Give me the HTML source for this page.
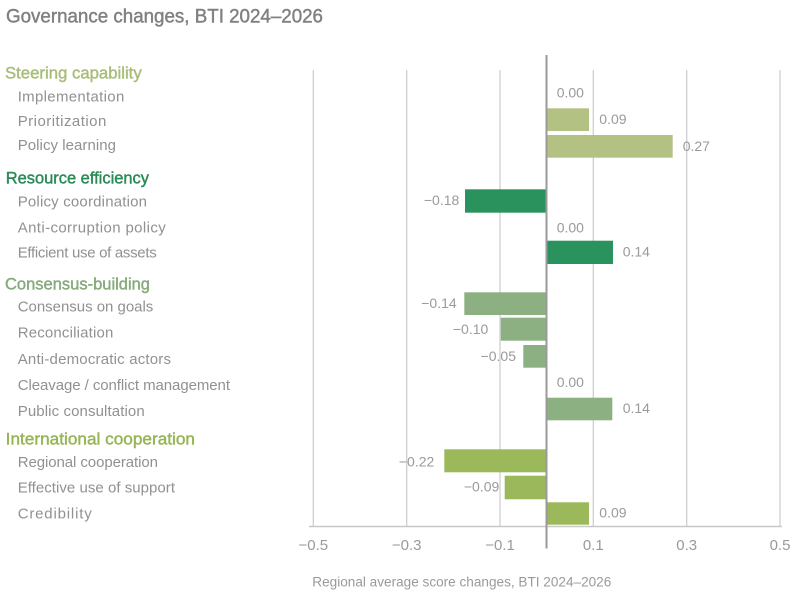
<!DOCTYPE html>
<html>
<head>
<meta charset="utf-8">
<style>
  html, body { margin:0; padding:0; background:#ffffff; }
  svg { display:block; }
  text { font-family: "Liberation Sans", "DejaVu Sans", sans-serif; }
  .lbl { font-size:15px; fill:#919191; }
  .val { font-size:14px; fill:#9a9a9a; }
  .tick { font-size:15px; fill:#9a9a9a; }
  .hdr { font-size:17px; stroke-width:0.45px; }
</style>
</head>
<body>
<svg width="800" height="595" viewBox="0 0 800 595" xmlns="http://www.w3.org/2000/svg">
  <!-- title -->
  <text x="6" y="22.7" font-size="19.5" fill="#808080" stroke="#808080" stroke-width="0.45" textLength="317" lengthAdjust="spacingAndGlyphs">Governance changes, BTI 2024–2026</text>

  <!-- gridlines -->
  <g stroke="#cfcfcf" stroke-width="1.3">
    <line x1="313.3" y1="70" x2="313.3" y2="527"/>
    <line x1="406.7" y1="70" x2="406.7" y2="527"/>
    <line x1="500" y1="70" x2="500" y2="527"/>
    <line x1="593.3" y1="70" x2="593.3" y2="527"/>
    <line x1="686.7" y1="70" x2="686.7" y2="527"/>
    <line x1="780" y1="70" x2="780" y2="527"/>
  </g>
  <line x1="309" y1="526.5" x2="782" y2="526.5" stroke="#c8c8c8" stroke-width="1.6"/>

  <!-- bars: steering -->
  <g fill="#b3c283">
    <rect x="546.7" y="108.3" width="42.3" height="22.7"/>
    <rect x="546.7" y="135" width="126" height="22.7"/>
  </g>
  <!-- resource -->
  <g fill="#2a935d">
    <rect x="465" y="189.3" width="81.7" height="23.4"/>
    <rect x="546.7" y="240.7" width="66.3" height="23.3"/>
  </g>
  <!-- consensus -->
  <g fill="#8db083">
    <rect x="464.3" y="292.3" width="82.4" height="22.7"/>
    <rect x="500.7" y="317.7" width="46" height="23"/>
    <rect x="523.3" y="345" width="23.4" height="22.7"/>
    <rect x="546.7" y="397.7" width="65.6" height="22.6"/>
  </g>
  <!-- international -->
  <g fill="#9bb85a">
    <rect x="444.3" y="449.3" width="102.4" height="23"/>
    <rect x="504.7" y="475.7" width="42" height="23.6"/>
    <rect x="546.7" y="502.3" width="42.3" height="22.4"/>
  </g>

  <!-- zero axis -->
  <line x1="546.5" y1="55" x2="546.5" y2="548.5" stroke="#9a9a9a" stroke-width="2"/>

  <!-- value labels -->
  <text class="val" x="556.7" y="97.7">0.00</text>
  <text class="val" x="599.3" y="124">0.09</text>
  <text class="val" x="682.7" y="151">0.27</text>
  <text class="val" x="459.3" y="205" text-anchor="end">−0.18</text>
  <text class="val" x="556.7" y="232.7">0.00</text>
  <text class="val" x="622.7" y="256.7">0.14</text>
  <text class="val" x="456.7" y="308" text-anchor="end">−0.14</text>
  <text class="val" x="488.3" y="334" text-anchor="end">−0.10</text>
  <text class="val" x="516" y="361" text-anchor="end">−0.05</text>
  <text class="val" x="556.7" y="387">0.00</text>
  <text class="val" x="622.7" y="413">0.14</text>
  <text class="val" x="434.3" y="466.7" text-anchor="end">−0.22</text>
  <text class="val" x="499.3" y="491.7" text-anchor="end">−0.09</text>
  <text class="val" x="599.3" y="517.7">0.09</text>

  <!-- category headers -->
  <text class="hdr" x="5" y="78.3" fill="#a9bd7a" stroke="#a9bd7a" textLength="136.7" lengthAdjust="spacingAndGlyphs">Steering capability</text>
  <text class="hdr" x="5.7" y="183.3" fill="#2b8a58" stroke="#2b8a58" textLength="143.3" lengthAdjust="spacingAndGlyphs">Resource efficiency</text>
  <text class="hdr" x="5" y="289.3" fill="#86ab7c" stroke="#86ab7c" textLength="145" lengthAdjust="spacingAndGlyphs">Consensus-building</text>
  <text class="hdr" x="5.7" y="444.3" fill="#96b554" stroke="#96b554" textLength="189.3" lengthAdjust="spacingAndGlyphs">International cooperation</text>

  <!-- item labels -->
  <text class="lbl" x="17.7" y="101.7" textLength="106.6" lengthAdjust="spacing">Implementation</text>
  <text class="lbl" x="17.7" y="126" textLength="88.6" lengthAdjust="spacing">Prioritization</text>
  <text class="lbl" x="17.7" y="150" textLength="98.3" lengthAdjust="spacing">Policy learning</text>
  <text class="lbl" x="17.7" y="206.7" textLength="129.3" lengthAdjust="spacing">Policy coordination</text>
  <text class="lbl" x="17.7" y="232.3" textLength="148" lengthAdjust="spacing">Anti-corruption policy</text>
  <text class="lbl" x="17.7" y="257.3" textLength="139" lengthAdjust="spacing">Efficient use of assets</text>
  <text class="lbl" x="17.7" y="311.7" textLength="135.6" lengthAdjust="spacing">Consensus on goals</text>
  <text class="lbl" x="17.7" y="337.7" textLength="95.6" lengthAdjust="spacing">Reconciliation</text>
  <text class="lbl" x="17.7" y="364" textLength="153.3" lengthAdjust="spacing">Anti-democratic actors</text>
  <text class="lbl" x="17.7" y="390" textLength="212.3" lengthAdjust="spacing">Cleavage / conflict management</text>
  <text class="lbl" x="17.7" y="416" textLength="127" lengthAdjust="spacing">Public consultation</text>
  <text class="lbl" x="17.7" y="467" textLength="140.3" lengthAdjust="spacing">Regional cooperation</text>
  <text class="lbl" x="17.7" y="492.7" textLength="157.3" lengthAdjust="spacing">Effective use of support</text>
  <text class="lbl" x="17.7" y="518.3" textLength="74" lengthAdjust="spacing">Credibility</text>

  <!-- tick labels -->
  <text class="tick" x="313.3" y="550" text-anchor="middle">−0.5</text>
  <text class="tick" x="406.7" y="550" text-anchor="middle">−0.3</text>
  <text class="tick" x="500" y="550" text-anchor="middle">−0.1</text>
  <text class="tick" x="593.3" y="550" text-anchor="middle">0.1</text>
  <text class="tick" x="686.7" y="550" text-anchor="middle">0.3</text>
  <text class="tick" x="780" y="550" text-anchor="middle">0.5</text>

  <!-- subtitle -->
  <text x="312.3" y="586.7" font-size="13.5" fill="#9a9a9a" textLength="299" lengthAdjust="spacingAndGlyphs">Regional average score changes, BTI 2024–2026</text>
</svg>
</body>
</html>
